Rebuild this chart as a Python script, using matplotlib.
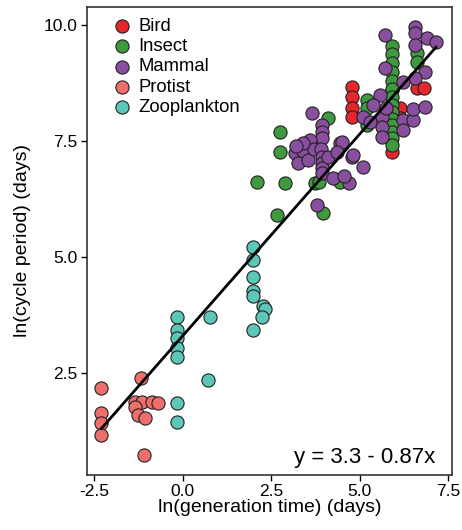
import numpy as np
import matplotlib
matplotlib.use('Agg')
import matplotlib.pyplot as plt

plt.rcParams['font.family'] = ['Liberation Sans', 'DejaVu Sans']

#data: ln(generation time) vs ln(cycle period)
bird_x = [4.77, 4.77, 4.77, 4.77, 6.61, 6.81, 6.13, 6.13, 5.90, 5.90]
bird_y = [8.66, 8.45, 8.22, 8.02, 8.64, 8.64, 8.21, 8.00, 7.26, 8.60]

insect_x = [2.74, 2.74, 2.09, 2.88, 2.66, 3.73, 3.85, 3.95, 4.10, 4.43, 5.20, 5.20, 5.20,
            5.90, 5.90, 5.90, 5.90, 5.90, 5.90, 5.90, 5.90, 5.90, 5.90, 5.90, 5.90, 5.90, 5.90,
            6.61, 6.61]
insect_y = [7.69, 7.26, 6.62, 6.60, 5.91, 6.60, 6.62, 5.95, 8.00, 6.62, 8.38, 8.20, 7.85,
            9.55, 9.38, 9.18, 8.99, 8.80, 8.62, 8.45, 8.28, 8.12, 7.98, 7.84, 7.70, 7.56, 7.42,
            9.40, 9.20]

mammal_x = [3.64, 3.93, 3.93, 3.93, 3.59, 3.16, 3.39, 3.25, 3.53, 3.70, 3.90, 3.93, 3.93,
            3.93, 3.93, 4.10, 4.43, 4.24, 4.77, 4.70, 3.79, 3.40, 3.20, 4.55,
            6.55, 6.55, 6.89, 7.15, 6.55, 5.71, 5.71, 6.84, 6.55, 6.21, 5.56, 5.37, 5.08,
            5.62, 5.62, 5.62, 6.21, 6.21, 6.50, 6.50, 6.84, 4.49, 4.35, 4.80, 5.08, 5.30, 5.75]
mammal_y = [8.10, 7.84, 7.69, 7.56, 7.52, 7.24, 7.28, 7.03, 7.09, 7.33, 7.33, 7.16, 7.03,
            6.92, 6.80, 7.16, 7.45, 6.70, 7.16, 6.60, 6.12, 7.45, 7.40, 6.75,
            9.96, 9.83, 9.72, 9.63, 9.57, 9.78, 9.07, 8.99, 8.85, 8.77, 8.49, 8.28, 8.02,
            8.02, 7.80, 7.59, 7.95, 7.74, 7.95, 8.19, 8.23, 7.48, 7.26, 7.20, 6.94, 7.90, 8.20]

protist_x = [-2.30, -2.30, -2.30, -2.30, -1.19, -1.36, -1.16, -1.36, -1.27, -1.07, -0.88, -0.71, -1.10]
protist_y = [2.18, 1.64, 1.42, 1.16, 2.39, 1.88, 1.88, 1.77, 1.59, 1.53, 1.88, 1.85, 0.73]

zoo_x = [-0.17, -0.17, -0.17, -0.17, -0.17, -0.17, -0.17, 0.77, 0.71,
         1.97, 1.97, 1.97, 1.97, 1.97, 1.97, 2.26, 2.33, 2.23]
zoo_y = [3.71, 3.43, 3.25, 3.04, 2.85, 1.85, 1.44, 3.71, 2.35,
         5.22, 4.94, 4.57, 4.27, 4.16, 3.43, 3.94, 3.88, 3.71]

#fitted line as printed on the chart
intercept = 3.3
slope = 0.87

groups = [
    ('Bird', bird_x, bird_y, '#E5262B'),
    ('Insect', insect_x, insect_y, '#3F9A3F'),
    ('Mammal', mammal_x, mammal_y, '#8A4E9F'),
    ('Protist', protist_x, protist_y, '#EE6E6B'),
    ('Zooplankton', zoo_x, zoo_y, '#5CC6B7'),
]

fig = plt.figure(figsize=(4.62, 5.30), dpi=100)
ax = fig.add_axes([0.188, 0.104, 0.79, 0.883])

for name, gx, gy, col in groups:
    ax.scatter(gx, gy, s=90, c=col, edgecolors='#222222', linewidths=0.8, label=name, zorder=3)

all_x = np.concatenate([g[1] for g in groups])
xline = np.array([all_x.min(), all_x.max()])
ax.plot(xline, intercept + slope * xline, color='black', lw=2, zorder=4)

ax.set_xlim(-2.71, 7.6)
ax.set_ylim(0.30, 10.39)
ax.set_xticks([-2.5, 0.0, 2.5, 5.0, 7.5])
ax.set_yticks([2.5, 5.0, 7.5, 10.0])
ax.xaxis.set_major_formatter(matplotlib.ticker.FormatStrFormatter('%.1f'))
ax.yaxis.set_major_formatter(matplotlib.ticker.FormatStrFormatter('%.1f'))
ax.tick_params(direction='out', length=4, width=1, labelsize=12.5, colors='black', pad=2.5)
for sp in ax.spines.values():
    sp.set_linewidth(1.2)
    sp.set_color('#333333')

ax.set_xlabel('ln(generation time) (days)', fontsize=14, labelpad=0)
ax.set_ylabel('ln(cycle period) (days)', fontsize=14, labelpad=9)

ax.legend(loc='upper left', bbox_to_anchor=(0.071, 0.976), frameon=False, fontsize=13.3,
          handlelength=1.0, handletextpad=0.4, labelspacing=0.17, borderaxespad=0, borderpad=0)
ax.text(0.955, 0.015, 'y = 3.3 - 0.87x', transform=ax.transAxes, ha='right', va='bottom', fontsize=16)

fig.savefig('out.png', dpi=100)
